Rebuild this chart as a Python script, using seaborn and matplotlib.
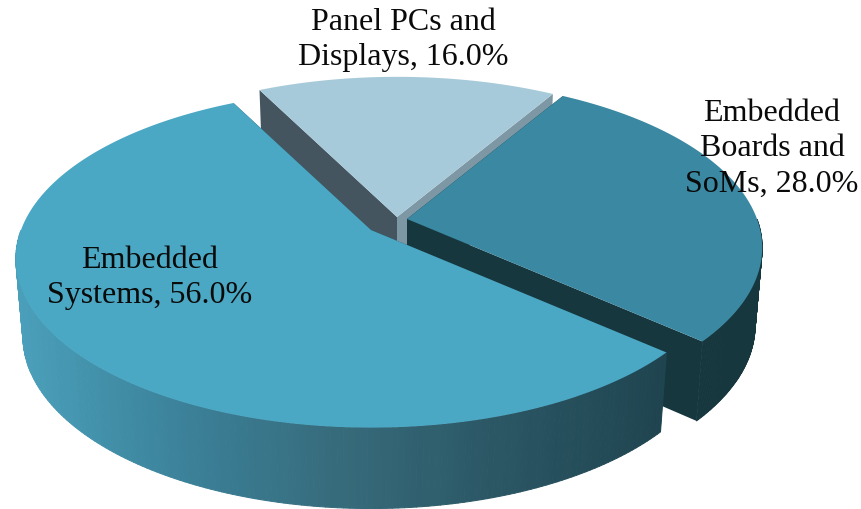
import numpy as np
import matplotlib
matplotlib.use("Agg")
import matplotlib.pyplot as plt
from matplotlib.collections import PolyCollection
import seaborn as sns

# Pie data
categories = ["Embedded\nSystems", "Embedded\nBoards and\nSoMs", "Panel PCs and\nDisplays"]
values = [56.0, 28.0, 16.0]

# Looks of each slice, same order as the data
top_colors = ["#4AA8C4", "#3A88A2", "#A6CAD9"]
right_wall_colors = ["#1F4450", "#17373F", "#7D97A5"]
left_wall_colors = ["#1F4450", "#17373F", "#44555F"]
outer_wall_colors = ["#1F4450", "#17373F", "#44555F"]
apex_x = [371, 407, 397]
apex_y = [230, 219, 217]
label_x = [150, 772, 403]
label_y = [278, 149, 40]

# 3D look of the pie
start_angle = -41.5
radius_x = 350
radius_y = 164
perspective = 0.17
depth = 77
base_shrink_x = 0.98
base_stretch_y = 1.02

sns.set_theme(style="white")
plt.rcParams['font.family'] = ['Liberation Serif', 'DejaVu Serif']


def top_point(angle, i):
    # rim point of slice i on the top face
    a = np.radians(angle)
    s = 1 / (1 + perspective * np.sin(a))
    return apex_x[i] + radius_x * np.cos(a) * s, apex_y[i] - radius_y * np.sin(a) * s


def base_point(angle, i):
    # the same point on the bottom face
    x, y = top_point(angle, i)
    return (apex_x[i] + (x - apex_x[i]) * base_shrink_x,
            apex_y[i] + (y - apex_y[i]) * base_stretch_y + depth)


fig = plt.figure(figsize=(8.61, 5.09), dpi=100)
ax = fig.add_axes([0, 0, 1, 1])
ax.set_xlim(0, 861)
ax.set_ylim(509, 0)
ax.axis("off")

# Slice angles come from the values, going anticlockwise from the lower right edge
sweeps = np.array(values) / sum(values) * 360
starts = {1: start_angle, 2: start_angle + sweeps[1], 0: start_angle - sweeps[0]}

# Back slices first so the big one sits in front
for i in [2, 1, 0]:
    a0 = starts[i]
    a1 = a0 + sweeps[i]
    angles = np.linspace(a0, a1, 240)
    apex = (apex_x[i], apex_y[i])
    apex_low = (apex_x[i], apex_y[i] + depth)

    # straight inner walls
    for a, col in [(a0, right_wall_colors[i]), (a1, left_wall_colors[i])]:
        wall = [apex, top_point(a, i), base_point(a, i), apex_low]
        ax.fill([p[0] for p in wall], [p[1] for p in wall], color=col, lw=0)

    # curved outer wall, only the part facing us, shaded left to right on the big slice
    quads = []
    for b0, b1 in zip(angles[:-1], angles[1:]):
        if np.sin(np.radians((b0 + b1) / 2)) < 0:
            quads.append([top_point(b0, i), top_point(b1, i), base_point(b1, i), base_point(b0, i)])
    if i == 0:
        shades = sns.blend_palette(["#4A9FBA", "#3B8199", "#366A7A", "#2A5563", "#1F4450"], 100)
        xs = [q[0][0] for q in quads]
        cols = [shades[int(np.clip((x - 14) / (667 - 14) * 99, 0, 99))] for x in xs]
    else:
        cols = [outer_wall_colors[i]] * len(quads)
    if quads:
        ax.add_collection(PolyCollection(quads, facecolors=cols, edgecolors=cols, linewidths=0.7))

    # top face
    rim = [top_point(a, i) for a in angles]
    face = [apex] + rim
    ax.fill([p[0] for p in face], [p[1] for p in face], color=top_colors[i], lw=0)

# Labels
for i in range(len(values)):
    ax.text(label_x[i], label_y[i], f"{categories[i]}, {values[i]:.1f}%",
            ha="center", va="center", ma="center", fontsize=23, color="#0A0A0A", linespacing=1.3)

plt.savefig("out.png", dpi=100)
